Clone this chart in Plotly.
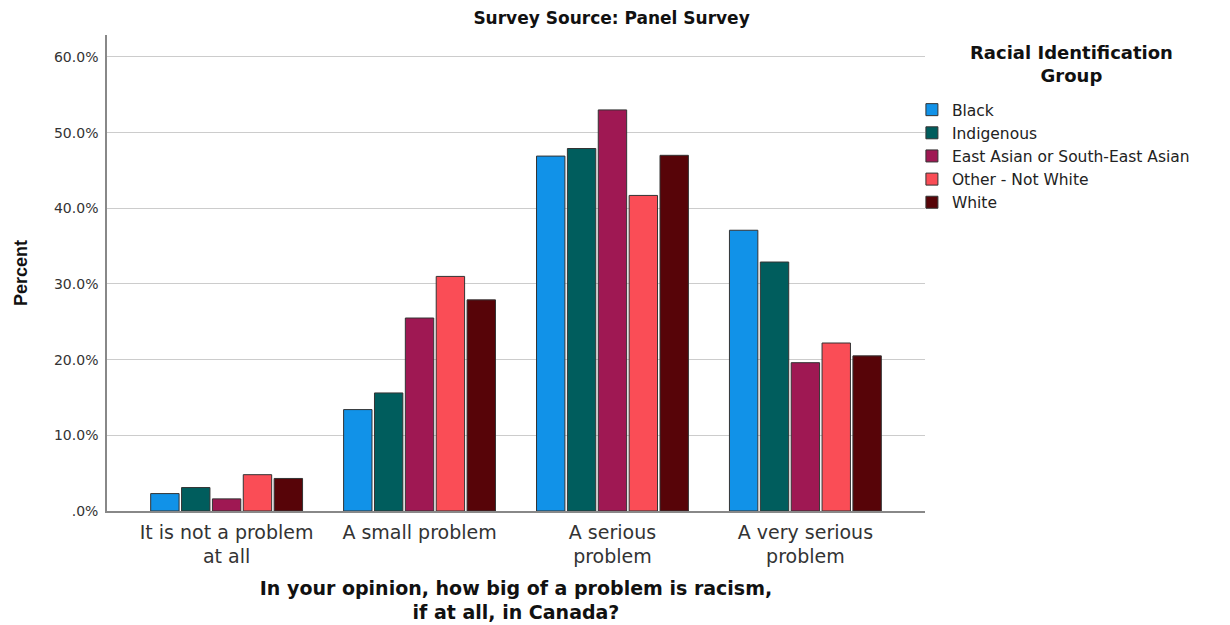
import plotly.graph_objects as go

categories = ["It is not a problem<br>at all", "A small problem", "A serious<br>problem", "A very serious<br>problem"]
groups = ["Black", "Indigenous", "East Asian or South-East Asian", "Other - Not White", "White"]
black = [2.3, 13.4, 46.9, 37.1]
indigenous = [3.1, 15.6, 47.9, 32.9]
east_asian = [1.6, 25.5, 53.0, 19.6]
other = [4.8, 31.0, 41.7, 22.2]
white = [4.3, 27.9, 47.0, 20.5]
series = [black, indigenous, east_asian, other, white]
colors = ["#1192e8", "#005d5d", "#9f1853", "#fa4d56", "#570408"]
ytick_vals = [0, 10, 20, 30, 40, 50, 60]
ytick_text = [".0%", "10.0%", "20.0%", "30.0%", "40.0%", "50.0%", "60.0%"]
legend_title = "<b>Racial Identification<br>Group</b>"

WIDE = "DejaVu Sans, Verdana, sans-serif"

fig = go.Figure()
for name, vals, col in zip(groups, series, colors):
    fig.add_trace(go.Bar(
        x=categories, y=vals, name=name,
        marker=dict(color=col, line=dict(color="#333333", width=1)),
    ))

fig.add_annotation(
    text=legend_title, xref="paper", yref="paper", x=1.1797, y=0.939,
    xanchor="center", yanchor="middle", align="center", showarrow=False,
    font=dict(size=18, family=WIDE, color="#111111"),
)

fig.update_layout(
    width=1230, height=625,
    paper_bgcolor="white", plot_bgcolor="white",
    barmode="group", bargap=0.2, bargroupgap=0.08,
    margin=dict(l=99, r=313, t=27, b=122, autoexpand=False),
    font=dict(family=WIDE, color="#222222"),
    title=dict(text="<b>Survey Source: Panel Survey</b>", x=0.4907, xanchor="center",
               y=0.984, yanchor="middle", font=dict(size=17, family=WIDE, color="#111111")),
    legend=dict(
        x=0.984, xanchor="left", y=0.878, yanchor="top",
        font=dict(size=15.5, family=WIDE, color="#222222"),
        itemwidth=30, tracegroupgap=0, traceorder="normal",
        bgcolor="rgba(0,0,0,0)",
    ),
    xaxis=dict(
        type="category", range=[-0.62, 3.62], automargin=False,
        showline=True, linecolor="#888888", linewidth=1.5,
        showgrid=False, ticks="", ticklabelstandoff=3,
        tickfont=dict(size=19, family=WIDE, color="#333333"),
        title=dict(text="<b>In your opinion, how big of a problem is racism,<br>if at all, in Canada?</b>",
                   font=dict(size=19, family=WIDE, color="#111111"),
                   standoff=15),
    ),
    yaxis=dict(
        range=[0, 62.9], automargin=False,
        tickvals=ytick_vals, ticktext=ytick_text,
        showline=True, linecolor="#888888", linewidth=1.5,
        showgrid=True, gridcolor="#cccccc", gridwidth=1.2,
        zeroline=False, ticks="", ticklabelstandoff=4,
        tickfont=dict(size=14, family=WIDE, color="#333333"),
        title=dict(text="<b>Percent</b>", font=dict(size=18, family="Liberation Sans, Arial, sans-serif", color="#111111"),
                   standoff=22),
    ),
)

fig.write_html("out.html")
